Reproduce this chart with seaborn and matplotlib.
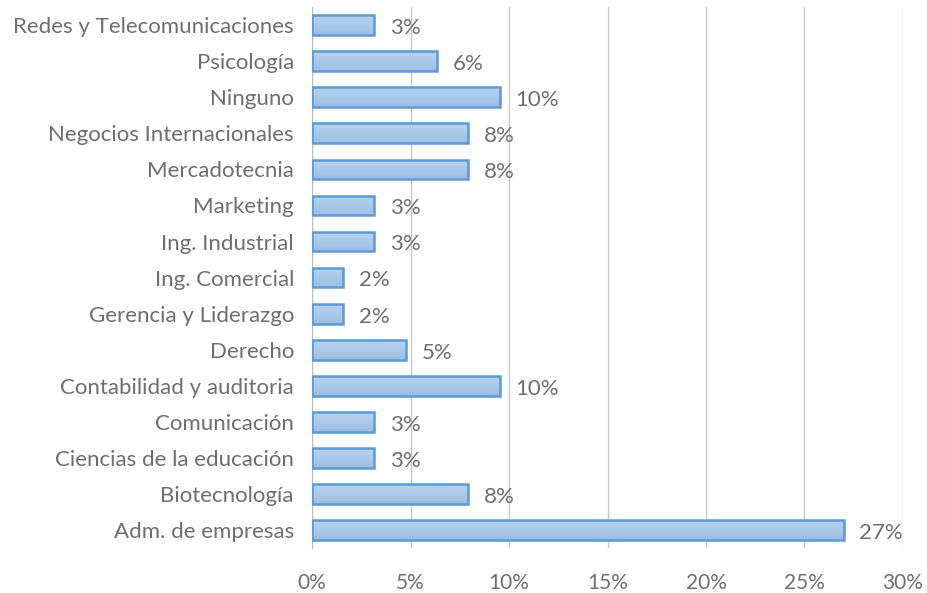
import numpy as np
import pandas as pd
import matplotlib
matplotlib.use("Agg")
import matplotlib.pyplot as plt
import seaborn as sns

carreras = [
    "Redes y Telecomunicaciones", "Psicología", "Ninguno",
    "Negocios Internacionales", "Mercadotecnia", "Marketing",
    "Ing. Industrial", "Ing. Comercial", "Gerencia y Liderazgo",
    "Derecho", "Contabilidad y auditoria", "Comunicación",
    "Ciencias de la educación", "Biotecnología", "Adm. de empresas",
]
porcentajes = [3.17, 6.35, 9.52, 7.94, 7.94, 3.17, 3.17, 1.59, 1.59,
               4.76, 9.52, 3.17, 3.17, 7.94, 26.98]
xticks = [0, 5, 10, 15, 20, 25, 30]

df = pd.DataFrame({"carrera": carreras, "pct": porcentajes})

sns.set_style("white")
plt.rcParams["font.family"] = ["Lato", "DejaVu Sans"]
text_color = "#6E6E6E"

fig = plt.figure(figsize=(9.27, 5.93), dpi=100)
ax = fig.add_axes([0.3366, 0.0759, 0.6375, 0.912])

sns.barplot(data=df, x="pct", y="carrera", orient="h", ax=ax,
            color="#A9C8EA", edgecolor="#5B9BD5", linewidth=1.8,
            width=0.55, saturation=1)

# gradient fill inside each bar (lighter on top, darker at bottom)
grad = np.linspace(0, 1, 64).reshape(-1, 1)
cmap = matplotlib.colors.LinearSegmentedColormap.from_list(
    "g", ["#BAD3EE", "#9BBEE5"])
for patch in ax.patches:
    x0, y0 = patch.get_x(), patch.get_y()
    w, h = patch.get_width(), patch.get_height()
    im = ax.imshow(grad, extent=[x0, x0 + w, y0 + h, y0], cmap=cmap,
                   aspect="auto", zorder=patch.get_zorder() - 0.1,
                   origin="upper")
    im.set_clip_path(patch)
    patch.set_facecolor("none")
    patch.set_zorder(3)

for i, v in enumerate(porcentajes):
    ax.text(v + 0.8, i + 0.08, f"{v:.0f}%", va="center", ha="left",
            fontsize=16, color=text_color)

ax.set_xlim(0, 30)
ax.set_ylim(len(carreras) - 0.5, -0.5)
ax.set_xticks(xticks)
ax.set_xticklabels([f"{t}%" for t in xticks])
ax.set_xlabel("")
ax.set_ylabel("")
ax.grid(axis="x", color="#C8C8C8", linewidth=1)
ax.set_axisbelow(True)
for s in ["top", "right", "bottom"]:
    ax.spines[s].set_visible(False)
ax.spines["left"].set_color("#BFBFBF")
ax.tick_params(axis="both", length=0, colors=text_color)
ax.tick_params(axis="x", pad=18, labelsize=15)
ax.tick_params(axis="y", pad=13, labelsize=16)

fig.savefig("out.png", dpi=100)
